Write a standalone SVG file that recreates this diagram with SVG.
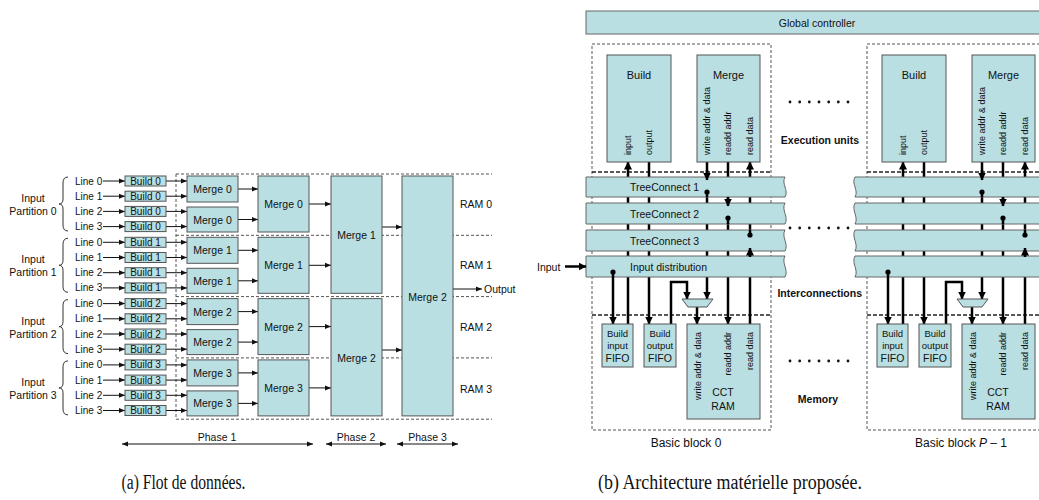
<svg xmlns="http://www.w3.org/2000/svg" width="1039" height="500" viewBox="0 0 1039 500">
<defs>
<marker id="ah" viewBox="0 0 6 6" refX="6" refY="3" markerWidth="6" markerHeight="6" markerUnits="userSpaceOnUse" orient="auto-start-reverse"><path d="M0,0.5 L6,3 L0,5.5 z" fill="#111"/></marker>
<marker id="bh" viewBox="0 0 8 8" refX="7.5" refY="4" markerWidth="8" markerHeight="8" markerUnits="userSpaceOnUse" orient="auto"><path d="M0,0 L8,4 L0,8 z" fill="#000"/></marker>
</defs>
<style>
text{font-family:"Liberation Sans",Arial,sans-serif;fill:#111;dominant-baseline:central}
.box{fill:#b9dfe3;stroke:#555;stroke-width:1}
.bar{fill:#b9dfe3;stroke:#666;stroke-width:1}
.t{font-size:10px;text-anchor:middle}
.m{font-size:10.5px;text-anchor:middle}
.l{font-size:10px}
.lab{font-size:10.5px}
.dash{fill:none;stroke:#555;stroke-width:1;stroke-dasharray:3 2}
.dash2{fill:none;stroke:#222;stroke-width:1.5;stroke-dasharray:4 2}
.a{fill:none;stroke:#111;stroke-width:1;marker-end:url(#ah)}
.aa{fill:none;stroke:#111;stroke-width:1;marker-end:url(#ah);marker-start:url(#ah)}
.brace{fill:none;stroke:#333;stroke-width:1}
.w{fill:none;stroke:#000;stroke-width:2.5}
.wa{fill:none;stroke:#000;stroke-width:2.5;marker-end:url(#bh)}
.u{font-size:11px;text-anchor:middle}
.r{font-size:9px}
.f{font-size:9.5px;text-anchor:middle}
.ff{font-size:10.5px;text-anchor:middle}
.bold{font-size:10.5px;font-weight:bold}
.cap{font-family:"Liberation Serif","Times New Roman",serif;font-size:20px;text-anchor:middle}
</style>

<!-- ============ LEFT: data flow ============ -->
<g id="left-frame">
<path class="dash" d="M176,174 H492 M176,235.3 H492 M176,296.6 H492 M176,357.9 H492 M176,419.2 H492 M176,174 V419.2"/>
</g>

<g id="partition-labels">
<text class="lab" x="33" y="198" text-anchor="middle">Input</text>
<text class="lab" x="33" y="211" text-anchor="middle">Partition 0</text>
<path class="brace" d="M68,177 Q63,177 63,183 V199 Q63,204 59,204 Q63,204 63,209 V225 Q63,231 68,231"/>
<text class="lab" x="33" y="259.3" text-anchor="middle">Input</text>
<text class="lab" x="33" y="272.3" text-anchor="middle">Partition 1</text>
<path class="brace" d="M68,238.3 Q63,238.3 63,244.3 V260.3 Q63,265.3 59,265.3 Q63,265.3 63,270.3 V286.3 Q63,292.3 68,292.3"/>
<text class="lab" x="33" y="320.6" text-anchor="middle">Input</text>
<text class="lab" x="33" y="333.6" text-anchor="middle">Partition 2</text>
<path class="brace" d="M68,299.6 Q63,299.6 63,305.6 V321.6 Q63,326.6 59,326.6 Q63,326.6 63,331.6 V347.6 Q63,353.6 68,353.6"/>
<text class="lab" x="33" y="381.9" text-anchor="middle">Input</text>
<text class="lab" x="33" y="394.9" text-anchor="middle">Partition 3</text>
<path class="brace" d="M68,360.9 Q63,360.9 63,366.9 V382.9 Q63,387.9 59,387.9 Q63,387.9 63,392.9 V408.9 Q63,414.9 68,414.9"/>
</g>

<g id="line-labels">
<text class="l" x="75" y="181">Line 0</text><text class="l" x="75" y="196.2">Line 1</text><text class="l" x="75" y="211.4">Line 2</text><text class="l" x="75" y="226.6">Line 3</text>
<text class="l" x="75" y="242.3">Line 0</text><text class="l" x="75" y="257.5">Line 1</text><text class="l" x="75" y="272.7">Line 2</text><text class="l" x="75" y="287.9">Line 3</text>
<text class="l" x="75" y="303.6">Line 0</text><text class="l" x="75" y="318.8">Line 1</text><text class="l" x="75" y="334">Line 2</text><text class="l" x="75" y="349.2">Line 3</text>
<text class="l" x="75" y="364.9">Line 0</text><text class="l" x="75" y="380.1">Line 1</text><text class="l" x="75" y="395.3">Line 2</text><text class="l" x="75" y="410.5">Line 3</text>
</g>

<g id="left-connectors">
<path class="a" d="M103,181 H125"/><path class="a" d="M103,196.2 H125"/><path class="a" d="M103,211.4 H125"/><path class="a" d="M103,226.6 H125"/>
<path class="a" d="M103,242.3 H125"/><path class="a" d="M103,257.5 H125"/><path class="a" d="M103,272.7 H125"/><path class="a" d="M103,287.9 H125"/>
<path class="a" d="M103,303.6 H125"/><path class="a" d="M103,318.8 H125"/><path class="a" d="M103,334 H125"/><path class="a" d="M103,349.2 H125"/>
<path class="a" d="M103,364.9 H125"/><path class="a" d="M103,380.1 H125"/><path class="a" d="M103,395.3 H125"/><path class="a" d="M103,410.5 H125"/>
<path class="a" d="M166,181 H187"/><path class="a" d="M166,196.2 H187"/><path class="a" d="M166,211.4 H187"/><path class="a" d="M166,226.6 H187"/>
<path class="a" d="M166,242.3 H187"/><path class="a" d="M166,257.5 H187"/><path class="a" d="M166,272.7 H187"/><path class="a" d="M166,287.9 H187"/>
<path class="a" d="M166,303.6 H187"/><path class="a" d="M166,318.8 H187"/><path class="a" d="M166,334 H187"/><path class="a" d="M166,349.2 H187"/>
<path class="a" d="M166,364.9 H187"/><path class="a" d="M166,380.1 H187"/><path class="a" d="M166,395.3 H187"/><path class="a" d="M166,410.5 H187"/>
<path class="a" d="M238,189 H258"/><path class="a" d="M238,219.5 H258"/>
<path class="a" d="M238,250.3 H258"/><path class="a" d="M238,280.8 H258"/>
<path class="a" d="M238,311.6 H258"/><path class="a" d="M238,342.1 H258"/>
<path class="a" d="M238,372.9 H258"/><path class="a" d="M238,403.4 H258"/>
<path class="a" d="M309,204 H331"/><path class="a" d="M309,265.3 H331"/><path class="a" d="M309,326.6 H331"/><path class="a" d="M309,387.9 H331"/>
<path class="a" d="M382,227 H402"/><path class="a" d="M382,350 H402"/>
<path class="a" d="M453,289 H482"/>
<path class="aa" d="M122,444 H313"/><path class="aa" d="M326,444 H386"/><path class="aa" d="M397,444 H458"/>
</g>

<g id="builds">
<g id="build-0-0"><rect class="box" x="125" y="176" width="41" height="10"/><text class="t" x="145.5" y="181">Build 0</text></g>
<g id="build-0-1"><rect class="box" x="125" y="191.2" width="41" height="10"/><text class="t" x="145.5" y="196.2">Build 0</text></g>
<g id="build-0-2"><rect class="box" x="125" y="206.4" width="41" height="10"/><text class="t" x="145.5" y="211.4">Build 0</text></g>
<g id="build-0-3"><rect class="box" x="125" y="221.6" width="41" height="10"/><text class="t" x="145.5" y="226.6">Build 0</text></g>
<g id="build-1-0"><rect class="box" x="125" y="237.3" width="41" height="10"/><text class="t" x="145.5" y="242.3">Build 1</text></g>
<g id="build-1-1"><rect class="box" x="125" y="252.5" width="41" height="10"/><text class="t" x="145.5" y="257.5">Build 1</text></g>
<g id="build-1-2"><rect class="box" x="125" y="267.7" width="41" height="10"/><text class="t" x="145.5" y="272.7">Build 1</text></g>
<g id="build-1-3"><rect class="box" x="125" y="282.9" width="41" height="10"/><text class="t" x="145.5" y="287.9">Build 1</text></g>
<g id="build-2-0"><rect class="box" x="125" y="298.6" width="41" height="10"/><text class="t" x="145.5" y="303.6">Build 2</text></g>
<g id="build-2-1"><rect class="box" x="125" y="313.8" width="41" height="10"/><text class="t" x="145.5" y="318.8">Build 2</text></g>
<g id="build-2-2"><rect class="box" x="125" y="329" width="41" height="10"/><text class="t" x="145.5" y="334">Build 2</text></g>
<g id="build-2-3"><rect class="box" x="125" y="344.2" width="41" height="10"/><text class="t" x="145.5" y="349.2">Build 2</text></g>
<g id="build-3-0"><rect class="box" x="125" y="359.9" width="41" height="10"/><text class="t" x="145.5" y="364.9">Build 3</text></g>
<g id="build-3-1"><rect class="box" x="125" y="375.1" width="41" height="10"/><text class="t" x="145.5" y="380.1">Build 3</text></g>
<g id="build-3-2"><rect class="box" x="125" y="390.3" width="41" height="10"/><text class="t" x="145.5" y="395.3">Build 3</text></g>
<g id="build-3-3"><rect class="box" x="125" y="405.5" width="41" height="10"/><text class="t" x="145.5" y="410.5">Build 3</text></g>
</g>

<g id="merges-s1">
<g id="m1-0a"><rect class="box" x="187" y="176" width="51" height="26"/><text class="m" x="212.5" y="189">Merge 0</text></g>
<g id="m1-0b"><rect class="box" x="187" y="207" width="51" height="25"/><text class="m" x="212.5" y="219.5">Merge 0</text></g>
<g id="m1-1a"><rect class="box" x="187" y="237.3" width="51" height="26"/><text class="m" x="212.5" y="250.3">Merge 1</text></g>
<g id="m1-1b"><rect class="box" x="187" y="268.3" width="51" height="25"/><text class="m" x="212.5" y="280.8">Merge 1</text></g>
<g id="m1-2a"><rect class="box" x="187" y="298.6" width="51" height="26"/><text class="m" x="212.5" y="311.6">Merge 2</text></g>
<g id="m1-2b"><rect class="box" x="187" y="329.6" width="51" height="25"/><text class="m" x="212.5" y="342.1">Merge 2</text></g>
<g id="m1-3a"><rect class="box" x="187" y="359.9" width="51" height="26"/><text class="m" x="212.5" y="372.9">Merge 3</text></g>
<g id="m1-3b"><rect class="box" x="187" y="390.9" width="51" height="25"/><text class="m" x="212.5" y="403.4">Merge 3</text></g>
</g>
<g id="merges-s2">
<g id="m2-0"><rect class="box" x="258" y="176" width="51" height="56"/><text class="m" x="283.5" y="204">Merge 0</text></g>
<g id="m2-1"><rect class="box" x="258" y="237.3" width="51" height="56"/><text class="m" x="283.5" y="265.3">Merge 1</text></g>
<g id="m2-2"><rect class="box" x="258" y="298.6" width="51" height="56"/><text class="m" x="283.5" y="326.6">Merge 2</text></g>
<g id="m2-3"><rect class="box" x="258" y="359.9" width="51" height="56"/><text class="m" x="283.5" y="387.9">Merge 3</text></g>
</g>
<g id="merges-s3">
<g id="m3-1"><rect class="box" x="331" y="176" width="51" height="117.3"/><text class="m" x="356.5" y="235">Merge 1</text></g>
<g id="m3-2"><rect class="box" x="331" y="298.6" width="51" height="117.3"/><text class="m" x="356.5" y="357.5">Merge 2</text></g>
</g>
<g id="m4"><rect class="box" x="402" y="176" width="51" height="239.9"/><text class="m" x="427.5" y="297">Merge 2</text></g>

<g id="left-labels">
<text class="lab" x="460" y="204">RAM 0</text>
<text class="lab" x="460" y="265.3">RAM 1</text>
<text class="lab" x="460" y="326.6">RAM 2</text>
<text class="lab" x="460" y="388.5">RAM 3</text>
<text class="lab" x="484" y="289">Output</text>
<text class="m" x="217" y="437">Phase 1</text>
<text class="m" x="356" y="437">Phase 2</text>
<text class="m" x="427.5" y="437">Phase 3</text>
</g>

<!-- ============ RIGHT: architecture ============ -->
<g id="global-controller"><rect class="bar" x="586" y="11" width="470" height="23"/><text class="m" x="817" y="22.5">Global controller</text></g>

<g id="block-frames">
<rect class="dash" x="592" y="44" width="179" height="386"/>
<path class="dash2" d="M592,172 H771 M592,315 H771"/>
<rect class="dash" x="867" y="44" width="179" height="386"/>
<path class="dash2" d="M867,172 H1046 M867,315 H1046"/>
</g>

<g id="connectors-back">
<path class="wa" d="M628,324 V162"/>
<path class="wa" d="M649,162 V324"/>
<path class="wa" d="M707,162 V299"/>
<path class="wa" d="M728,162 V324"/>
<path class="wa" d="M750,324 V162"/>
<path class="wa" d="M903,324 V162"/>
<path class="wa" d="M924,162 V324"/>
<path class="wa" d="M982,162 V299"/>
<path class="wa" d="M1003,162 V324"/>
<path class="wa" d="M1025,324 V162"/>
</g>

<g id="bars">
<g id="treeconnect-1">
<path class="bar" d="M586,177 H785 C781,183.7 789,190.3 785,197 H586 Z"/>
<path class="bar" d="M1046,177 H855 C851,183.7 859,190.3 855,197 H1046 Z"/>
<text class="lab" x="630" y="187">TreeConnect 1</text>
</g>
<g id="treeconnect-2">
<path class="bar" d="M586,203 H785 C781,210 789,217 785,224 H586 Z"/>
<path class="bar" d="M1046,203 H855 C851,210 859,217 855,224 H1046 Z"/>
<text class="lab" x="630" y="213.5">TreeConnect 2</text>
</g>
<g id="treeconnect-3">
<path class="bar" d="M586,230 H785 C781,237 789,244 785,251 H586 Z"/>
<path class="bar" d="M1046,230 H855 C851,237 859,244 855,251 H1046 Z"/>
<text class="lab" x="630" y="240.5">TreeConnect 3</text>
</g>
<g id="input-distribution">
<path class="bar" d="M586,256 H785 C781,263 789,270 785,277 H586 Z"/>
<path class="bar" d="M1046,256 H855 C851,263 859,270 855,277 H1046 Z"/>
<text class="lab" x="630" y="266.5">Input distribution</text>
</g>
</g>

<g id="connectors-front">
<text class="lab" x="537" y="266.5">Input</text>
<path class="wa" d="M565,266.5 H586"/>
<path class="wa" d="M707,170 V180"/>
<path class="w" d="M707,192 V197"/><circle cx="707" cy="192" r="2.6"/>
<path class="wa" d="M728,197 V206"/>
<path class="w" d="M728,218 V224"/><circle cx="728" cy="218" r="2.6"/>
<path class="wa" d="M750,257 V248"/>
<path class="w" d="M750,230 V235"/><circle cx="750" cy="235" r="2.6"/>
<path class="wa" d="M613,272 V324"/><circle cx="613" cy="272" r="2.6"/>
<path class="wa" d="M671,324 V282 H687 V299"/>
<path class="wa" d="M697,307 V324"/>
<path class="wa" d="M982,170 V180"/>
<path class="w" d="M982,192 V197"/><circle cx="982" cy="192" r="2.6"/>
<path class="wa" d="M1003,197 V206"/>
<path class="w" d="M1003,218 V224"/><circle cx="1003" cy="218" r="2.6"/>
<path class="wa" d="M1025,257 V248"/>
<path class="w" d="M1025,230 V235"/><circle cx="1025" cy="235" r="2.6"/>
<path class="wa" d="M888,272 V324"/><circle cx="888" cy="272" r="2.6"/>
<path class="wa" d="M946,324 V282 H962 V299"/>
<path class="wa" d="M972,307 V324"/>
</g>

<g id="block-0">
<g id="build-unit-0"><rect class="box" x="607" y="55" width="64" height="107"/><text class="u" x="639" y="75">Build</text>
<text class="r" transform="translate(628,155) rotate(-90)">input</text><text class="r" transform="translate(649,155) rotate(-90)">output</text></g>
<g id="merge-unit-0"><rect class="box" x="697" y="55" width="63" height="107"/><text class="u" x="728.5" y="75">Merge</text>
<text class="r" transform="translate(707,155) rotate(-90)">write addr &amp; data</text><text class="r" transform="translate(728,155) rotate(-90)">readd addr</text><text class="r" transform="translate(750,155) rotate(-90)">read data</text></g>
<g id="mux-0"><polygon class="box" points="682,299 713,299 707,307 688,307"/></g>
<g id="build-input-fifo-0"><rect class="box" x="602" y="324" width="31" height="43"/><text class="f" x="617.5" y="333">Build</text><text class="f" x="617.5" y="345">input</text><text class="ff" x="617.5" y="357.5">FIFO</text></g>
<g id="build-output-fifo-0"><rect class="box" x="644" y="324" width="32" height="43"/><text class="f" x="660" y="333">Build</text><text class="f" x="660" y="345">output</text><text class="ff" x="660" y="357.5">FIFO</text></g>
<g id="cct-ram-0"><rect class="box" x="687" y="324" width="73" height="95"/>
<text class="r" text-anchor="end" transform="translate(698,332) rotate(-90)">write addr &amp; data</text><text class="r" text-anchor="end" transform="translate(728,332) rotate(-90)">readd addr</text><text class="r" text-anchor="end" transform="translate(750,332) rotate(-90)">read data</text>
<text class="ff" x="723" y="392">CCT</text><text class="ff" x="723" y="406">RAM</text></g>
<text x="686" y="443" font-size="12" text-anchor="middle">Basic block 0</text>
</g>

<g id="block-P-1">
<g id="build-unit-p"><rect class="box" x="882" y="55" width="64" height="107"/><text class="u" x="914" y="75">Build</text>
<text class="r" transform="translate(903,155) rotate(-90)">input</text><text class="r" transform="translate(924,155) rotate(-90)">output</text></g>
<g id="merge-unit-p"><rect class="box" x="972" y="55" width="63" height="107"/><text class="u" x="1003.5" y="75">Merge</text>
<text class="r" transform="translate(982,155) rotate(-90)">write addr &amp; data</text><text class="r" transform="translate(1003,155) rotate(-90)">readd addr</text><text class="r" transform="translate(1025,155) rotate(-90)">read data</text></g>
<g id="mux-p"><polygon class="box" points="957,299 988,299 982,307 963,307"/></g>
<g id="build-input-fifo-p"><rect class="box" x="877" y="324" width="31" height="43"/><text class="f" x="892.5" y="333">Build</text><text class="f" x="892.5" y="345">input</text><text class="ff" x="892.5" y="357.5">FIFO</text></g>
<g id="build-output-fifo-p"><rect class="box" x="919" y="324" width="32" height="43"/><text class="f" x="935" y="333">Build</text><text class="f" x="935" y="345">output</text><text class="ff" x="935" y="357.5">FIFO</text></g>
<g id="cct-ram-p"><rect class="box" x="962" y="324" width="73" height="95"/>
<text class="r" text-anchor="end" transform="translate(973,332) rotate(-90)">write addr &amp; data</text><text class="r" text-anchor="end" transform="translate(1003,332) rotate(-90)">readd addr</text><text class="r" text-anchor="end" transform="translate(1025,332) rotate(-90)">read data</text>
<text class="ff" x="998" y="392">CCT</text><text class="ff" x="998" y="406">RAM</text></g>
<text x="961" y="443" font-size="12" text-anchor="middle">Basic block <tspan font-style="italic">P</tspan> – 1</text>
</g>

<g id="middle-labels">
<g fill="#111"><circle cx="790" cy="102" r="1.4"/><circle cx="799.7" cy="102" r="1.4"/><circle cx="809.3" cy="102" r="1.4"/><circle cx="819" cy="102" r="1.4"/><circle cx="828.7" cy="102" r="1.4"/><circle cx="838.3" cy="102" r="1.4"/><circle cx="848" cy="102" r="1.4"/>
<circle cx="790" cy="228" r="1.4"/><circle cx="799.7" cy="228" r="1.4"/><circle cx="809.3" cy="228" r="1.4"/><circle cx="819" cy="228" r="1.4"/><circle cx="828.7" cy="228" r="1.4"/><circle cx="838.3" cy="228" r="1.4"/><circle cx="848" cy="228" r="1.4"/>
<circle cx="790" cy="361" r="1.4"/><circle cx="799.7" cy="361" r="1.4"/><circle cx="809.3" cy="361" r="1.4"/><circle cx="819" cy="361" r="1.4"/><circle cx="828.7" cy="361" r="1.4"/><circle cx="838.3" cy="361" r="1.4"/><circle cx="848" cy="361" r="1.4"/></g>
<text class="bold" x="859" y="140" text-anchor="end">Execution units</text>
<text class="bold" x="862" y="293" text-anchor="end">Interconnections</text>
<text class="bold" x="818" y="399" text-anchor="middle">Memory</text>
</g>

<g id="captions">
<text class="cap" x="183.5" y="482" textLength="124" lengthAdjust="spacingAndGlyphs">(a)  Flot de données.</text>
<text class="cap" x="730" y="482" textLength="264" lengthAdjust="spacingAndGlyphs">(b)  Architecture matérielle proposée.</text>
</g>
</svg>
